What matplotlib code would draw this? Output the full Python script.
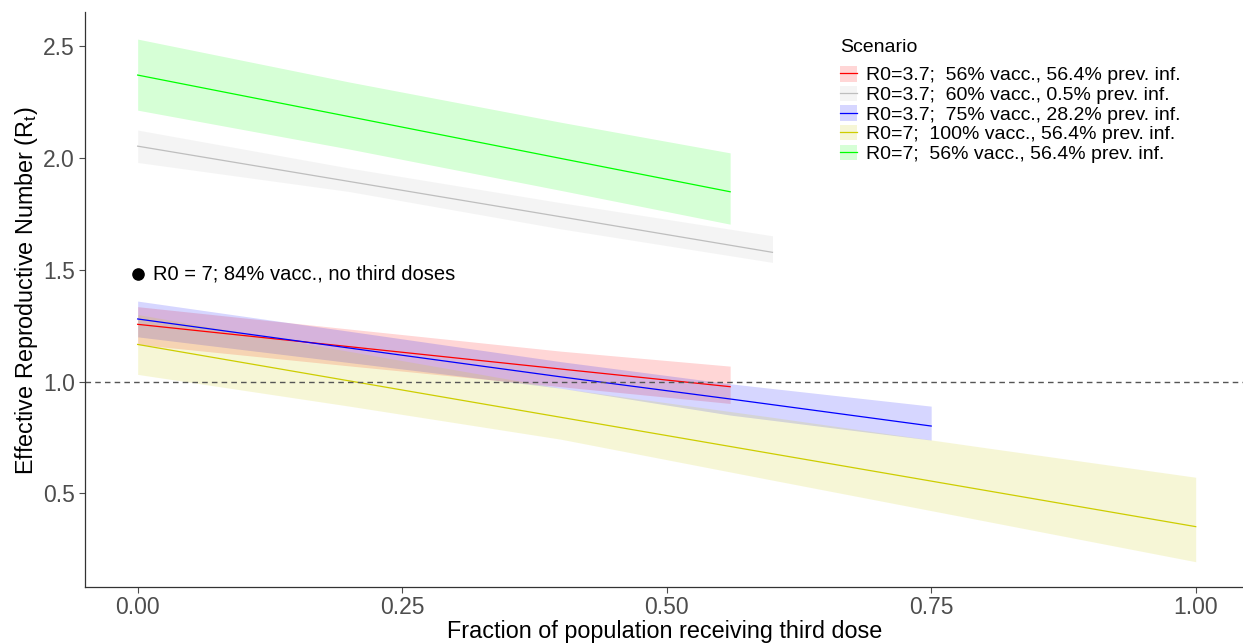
import numpy as np
import matplotlib
matplotlib.use("Agg")
import matplotlib.pyplot as plt
from matplotlib.patches import Patch
from matplotlib.lines import Line2D

plt.rcParams['font.family'] = ['Liberation Sans', 'DejaVu Sans']
plt.rcParams['mathtext.fontset'] = 'custom'
plt.rcParams['mathtext.rm'] = 'Liberation Sans'
plt.rcParams['mathtext.it'] = 'Liberation Sans:italic'

# values (x = fraction receiving third dose)
labels = ["R0=3.7;  56% vacc., 56.4% prev. inf.",
          "R0=3.7;  60% vacc., 0.5% prev. inf.",
          "R0=3.7;  75% vacc., 28.2% prev. inf.",
          "R0=7;  100% vacc., 56.4% prev. inf.",
          "R0=7;  56% vacc., 56.4% prev. inf."]

red_x = [0, 0.2, 0.4, 0.56]
red_mid = [1.256, 1.156, 1.056, 0.977]
red_lo = [1.166, 1.07, 0.977, 0.902]
red_hi = [1.335, 1.235, 1.136, 1.069]

grey_x = [0, 0.2, 0.4, 0.6]
grey_mid = [2.053, 1.895, 1.737, 1.578]
grey_lo = [1.980, 1.850, 1.683, 1.533]
grey_hi = [2.125, 1.955, 1.800, 1.652]

blue_x = [0, 0.2, 0.4, 0.56, 0.75]
blue_mid = [1.280, 1.150, 1.021, 0.922, 0.801]
blue_lo = [1.200, 1.085, 0.970, 0.850, 0.738]
blue_hi = [1.360, 1.225, 1.089, 0.990, 0.890]

yellow_x = [0, 0.2, 0.4, 0.6, 0.8, 1.0]
yellow_mid = [1.166, 1.003, 0.840, 0.677, 0.514, 0.351]
yellow_lo = [1.032, 0.890, 0.742, 0.559, 0.377, 0.194]
yellow_hi = [1.300, 1.135, 0.970, 0.840, 0.705, 0.572]

green_x = [0, 0.2, 0.4, 0.56]
green_mid = [2.371, 2.185, 1.998, 1.849]
green_lo = [2.214, 2.040, 1.855, 1.704]
green_hi = [2.532, 2.340, 2.160, 2.023]

point_x = 0.0
point_y = 1.481
point_label = "R0 = 7; 84% vacc., no third doses"

colors = ["#FF0000", "#BEBEBE", "#0000FF", "#CDCD00", "#00FF00"]
series = [(red_x, red_lo, red_mid, red_hi),
          (grey_x, grey_lo, grey_mid, grey_hi),
          (blue_x, blue_lo, blue_mid, blue_hi),
          (yellow_x, yellow_lo, yellow_mid, yellow_hi),
          (green_x, green_lo, green_mid, green_hi)]

W, H = 1243, 643
fig = plt.figure(figsize=(W / 100, H / 100), dpi=100)
ax = fig.add_axes([0.0686, 0.0871, 0.9314, 0.8942])

for (x, lo, mid, hi), c in zip(series, colors):
    ax.fill_between(x, lo, hi, color=c, alpha=0.16, linewidth=0)
for (x, lo, mid, hi), c in zip(series, colors):
    ax.plot(x, mid, color=c, linewidth=0.9)

ax.axhline(1.0, color="#555555", linestyle=(0, (4, 3)), linewidth=1.0)

ax.scatter([point_x], [point_y], s=65, color="black", zorder=5)
ax.text(point_x + 0.0145, point_y, point_label, fontsize=14.5, va="center")

ax.set_xlim(-0.0495, 1.0447)
ax.set_ylim(0.081, 2.653)
ax.set_xticks([0, 0.25, 0.5, 0.75, 1.0])
ax.set_xticklabels(["0.00", "0.25", "0.50", "0.75", "1.00"])
ax.set_yticks([0.5, 1.0, 1.5, 2.0, 2.5])
ax.tick_params(colors="#4D4D4D", labelsize=16.5, length=4, width=0.8)
ax.tick_params(axis="x", pad=2.5)
for s in ["top", "right"]:
    ax.spines[s].set_visible(False)
for s in ["left", "bottom"]:
    ax.spines[s].set_color("#333333")
    ax.spines[s].set_linewidth(0.9)

ax.set_xlabel("Fraction of population receiving third dose", fontsize=16.8, va="center")
ax.xaxis.set_label_coords(0.5, -0.077)
ax.set_ylabel(r"Effective Reproductive Number (R$_\mathrm{t}$)", fontsize=16.8, va="center")
ax.yaxis.set_label_coords(-0.0506, 0.515)

handles = [(Patch(facecolor=c, alpha=0.16, linewidth=0), Line2D([], [], color=c, linewidth=0.9))
           for c in colors]
fig.text(840 / W, 1 - 48 / H, "Scenario", fontsize=14, va="center", ha="left")
leg = ax.legend(handles, labels, loc="upper left",
                bbox_to_anchor=(840 / W, 1 - 66 / H), bbox_transform=fig.transFigure,
                frameon=False, fontsize=14, handlelength=0.85, handleheight=0.85,
                labelspacing=0.06, handletextpad=0.5, borderaxespad=0, borderpad=0)

fig.savefig("out.png", dpi=100)
